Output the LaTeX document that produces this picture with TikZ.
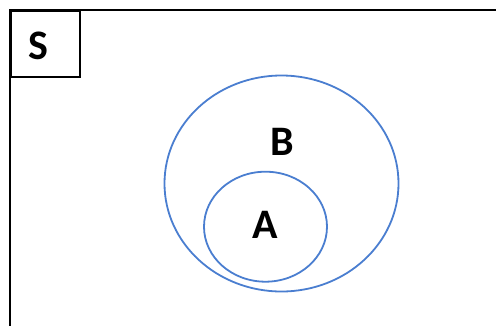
\documentclass[tikz,border=0pt]{standalone}
\usepackage{fontspec}
\setmainfont{Carlito}
\usetikzlibrary{shapes.geometric}
\definecolor{setblue}{RGB}{74,126,208}
\tikzset{
  setellipse/.style={draw=setblue, line width=1.8pt, ellipse, inner sep=0pt},
  setlabel/.style={font=\bfseries\fontsize{42}{42}\selectfont, inner sep=0pt},
  framebox/.style={draw=black, line width=2pt}
}
\begin{document}
\begin{tikzpicture}[x=1pt,y=-1pt]
\useasboundingbox (0,0) rectangle (496,325);
\coordinate (fb) at (10,326);
\coordinate (fc) at (10,10);
\coordinate (fr) at (497,10);
\draw[framebox] (fb) -- (fc) -- (fr);
\node[framebox, minimum width=69pt, minimum height=66pt, inner sep=0pt, anchor=north west] (S) at (10,10) {};
\node[setlabel] (Slab) at (38,46) {S};
\node[setellipse, minimum width=234pt, minimum height=216pt] (B) at (281.5,183.5) {};
\node[setellipse, minimum width=123pt, minimum height=110pt] (A) at (265.5,226.7) {};
\node[setlabel] (Blab) at (282,142) {B};
\node[setlabel] (Alab) at (265,225) {A};
\end{tikzpicture}
\end{document}
